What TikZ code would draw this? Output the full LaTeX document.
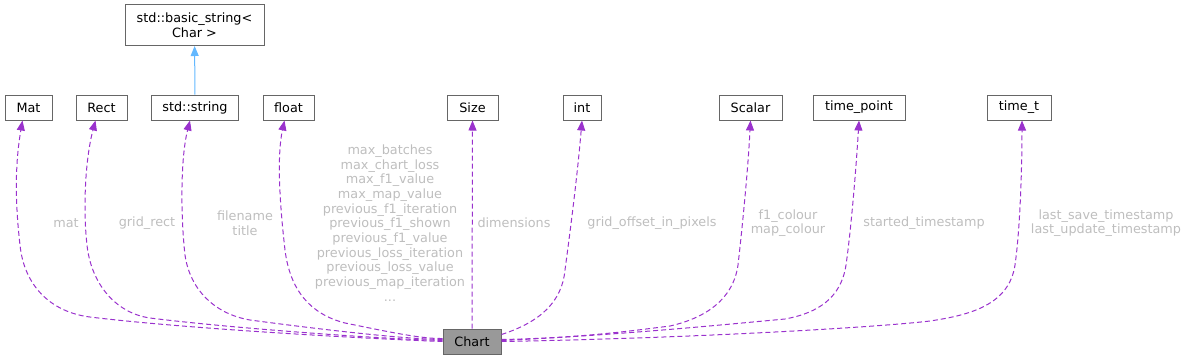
\documentclass[tikz,border=0pt]{standalone}
\usepackage{fontspec}
\setmainfont{DejaVu Sans}
\usetikzlibrary{arrows.meta}
\definecolor{edgepurple}{HTML}{9A32CD}
\definecolor{inhblue}{HTML}{63B8FF}
\definecolor{boxgray}{HTML}{666666}
\definecolor{labelgray}{HTML}{BEBEBE}
\definecolor{chartgray}{HTML}{999999}
\begin{document}
\begin{tikzpicture}[x=1pt, y=-1pt, >={Triangle[length=10pt,width=8pt]}, font=\fontsize{12.8}{14.7}\selectfont]
  \tikzstyle{cls}=[draw=boxgray, line width=1pt, fill=white, minimum height=25pt, inner sep=0pt, align=center]
  \tikzstyle{member}=[->, draw=edgepurple, line width=1pt, dash pattern=on 5pt off 3pt]
  \tikzstyle{lbl}=[text=labelgray, align=center, inner sep=0pt]

  \useasboundingbox (0,0) rectangle (1189,360);

  % Classi
  \node[cls, minimum width=139pt, minimum height=41pt] (basestr) at (194.5,25) {std::basic\_string<\\Char >};
  \node[cls, minimum width=47pt] (Mat) at (28.5,107.5) {Mat};
  \node[cls, minimum width=51pt] (Rect) at (101.5,107.5) {Rect};
  \node[cls, minimum width=87pt] (str) at (195,107.5) {std::string};
  \node[cls, minimum width=51pt] (flt) at (288.5,107.5) {float};
  \node[cls, minimum width=51pt] (Size) at (472.5,107.5) {Size};
  \node[cls, minimum width=38pt] (int) at (582,107.5) {int};
  \node[cls, minimum width=63pt] (Scalar) at (750.5,107.5) {Scalar};
  \node[cls, minimum width=92pt] (tpoint) at (859,107.5) {time\_point};
  \node[cls, minimum width=64pt] (timet) at (1019,107.5) {time\_t};
  \node[cls, minimum width=58pt, fill=chartgray] (Chart) at (472,341.5) {Chart};

  % Ereditarieta
  \draw[->, draw=inhblue, line width=1pt] (str) -- (basestr);

  % Membri
  \draw[member] (Chart.west) .. controls (350,338) and (180,328) .. (90,317)
    .. controls (50,312) and (24,285) .. (20,245)
    .. controls (16,210) and (14,170) .. ([xshift=-6pt]Mat.south);
  \draw[member] ([yshift=1pt]Chart.west) .. controls (380,339) and (230,328) .. (150,318)
    .. controls (115,313) and (91,283) .. (87,245)
    .. controls (83,210) and (85,160) .. ([xshift=-6pt]Rect.south);
  \draw[member] ([yshift=2pt]Chart.west) .. controls (400,339) and (310,328) .. (250,320)
    .. controls (215,314) and (190,290) .. (185,255)
    .. controls (181,220) and (180,160) .. ([xshift=-5pt]str.south);
  \draw[member] ([yshift=3pt]Chart.west) .. controls (420,339) and (380,330) .. (345,323)
    .. controls (310,314) and (290,290) .. (285,250)
    .. controls (281,215) and (276,160) .. ([xshift=-4pt]flt.south);
  \draw[member] (Chart.north) -- (Size.south);
  \draw[member] ([yshift=7pt]Chart.east) .. controls (540,322) and (562,302) .. (565,270)
    .. controls (569,240) and (577,180) .. (int.south);
  \draw[member] ([yshift=2pt]Chart.east) .. controls (580,338) and (630,331) .. (670,326)
    .. controls (705,318) and (733,300) .. (738,265)
    .. controls (742,230) and (748,170) .. (Scalar.south);
  \draw[member] ([yshift=1pt]Chart.east) .. controls (620,335) and (720,325) .. (785,319)
    .. controls (818,313) and (841,298) .. (846,265)
    .. controls (851,230) and (856,170) .. (tpoint.south);
  \draw[member] (Chart.east) .. controls (700,338) and (880,327) .. (930,321)
    .. controls (970,315) and (1009,305) .. (1015,265)
    .. controls (1020,230) and (1022,170) .. ([xshift=3pt]timet.south);

  % Etichette
  \node[lbl] (lmat) at (66,223) {mat};
  \node[lbl] (lrect) at (147,223) {grid\_rect};
  \node[lbl] (lstr) at (245,223) {filename\\title};
  \node[lbl] (lflt) at (390,223) {max\_batches\\max\_chart\_loss\\max\_f1\_value\\max\_map\_value\\previous\_f1\_iteration\\previous\_f1\_shown\\previous\_f1\_value\\previous\_loss\_iteration\\previous\_loss\_value\\previous\_map\_iteration\\...};
  \node[lbl] (lsize) at (514,223) {dimensions};
  \node[lbl] (lint) at (652,223) {grid\_offset\_in\_pixels};
  \node[lbl] (lscalar) at (788,223) {f1\_colour\\map\_colour};
  \node[lbl] (ltpoint) at (924,223) {started\_timestamp};
  \node[lbl] (ltimet) at (1106,223) {last\_save\_timestamp\\last\_update\_timestamp};
\end{tikzpicture}
\end{document}
